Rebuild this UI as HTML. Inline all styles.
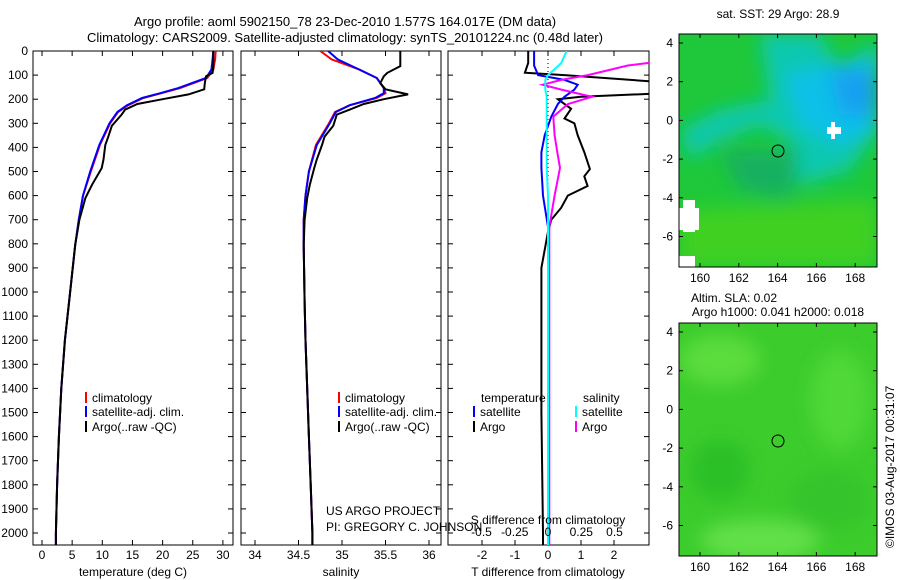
<!DOCTYPE html>
<html><head><meta charset="utf-8"><style>
body{margin:0;background:#fff;}
svg{display:block;font-family:"Liberation Sans",sans-serif;}
text{font-size:12px;fill:#000;}
</style></head><body>
<svg id="fig" width="900" height="580" viewBox="0 0 900 580">
<defs>
<clipPath id="c1"><rect x="33" y="51" width="200" height="494"/></clipPath>
<clipPath id="c2"><rect x="241" y="51" width="200" height="494"/></clipPath>
<clipPath id="c3"><rect x="448" y="51" width="201" height="494"/></clipPath>
<clipPath id="cm1"><rect x="679" y="34" width="198" height="233"/></clipPath>
<clipPath id="cm2"><rect x="679" y="323" width="198" height="233"/></clipPath>
<filter id="bl" x="-50%" y="-50%" width="200%" height="200%"><feGaussianBlur stdDeviation="9"/></filter>
</defs>
<text x="345" y="26" text-anchor="middle" style="font-size:13px">Argo profile: aoml 5902150_78 23-Dec-2010 1.577S 164.017E (DM data)</text>
<text x="345" y="42" text-anchor="middle" style="font-size:13px">Climatology: CARS2009. Satellite-adjusted climatology: synTS_20101224.nc (0.48d later)</text>

<!-- SST map -->
<g clip-path="url(#cm1)">
<rect x="679" y="34" width="198" height="233" fill="#1ec83a"/>
<g filter="url(#bl)">
<path d="M760 34 L820 34 L840 70 L877 40 L877 130 L850 170 L800 185 L790 140 L760 125 L720 140 L690 160 L680 130 L720 110 L770 100 Z" fill="#10c8b0"/>
<path d="M785 75 L877 55 L877 130 L840 145 L800 125 Z" fill="#10c0e8"/>
<path d="M830 70 L877 70 L877 115 L840 115 Z" fill="#18a0f0"/>
<path d="M720 150 L800 150 L790 200 L740 190 Z" fill="#18b060"/>
<path d="M679 210 L877 200 L877 267 L679 267 Z" fill="#40d020"/>
</g>
<rect x="827" y="127" width="14" height="7" fill="#fff"/><rect x="831" y="122" width="4" height="17" fill="#fff"/>
<rect x="683" y="200" width="12" height="32" fill="#fff"/><rect x="679" y="208" width="20" height="22" fill="#fff"/>
<rect x="679" y="256" width="16" height="11" fill="#fff"/>
<circle cx="778" cy="151" r="6" fill="none" stroke="#000"/>
</g>
<rect x="679" y="34" width="198" height="233" fill="none" stroke="#000"/>
<text x="778" y="18" text-anchor="middle">sat. SST: 29 Argo: 28.9</text>

<!-- SLA map -->
<g clip-path="url(#cm2)">
<rect x="679" y="323" width="198" height="233" fill="#3ccc2c"/>
<g filter="url(#bl)">
<ellipse cx="720" cy="360" rx="40" ry="25" fill="#5cdc3c"/>
<ellipse cx="840" cy="400" rx="30" ry="50" fill="#50d838"/>
<ellipse cx="760" cy="540" rx="60" ry="20" fill="#64e048"/>
<ellipse cx="720" cy="470" rx="30" ry="30" fill="#2cc028"/>
<ellipse cx="830" cy="500" rx="40" ry="30" fill="#34c42c"/>
</g>
<circle cx="778" cy="441" r="6" fill="none" stroke="#000"/>
</g>
<rect x="679" y="323" width="198" height="233" fill="none" stroke="#000"/>
<text x="734" y="302" text-anchor="middle">Altim. SLA: 0.02</text>
<text x="778" y="316" text-anchor="middle">Argo h1000: 0.041 h2000: 0.018</text>
<text transform="translate(894,548) rotate(-90)">©IMOS 03-Aug-2017 00:31:07</text>

<g id="plots"></g>
</svg>
<script>
// ===== data =====
const depthTicks=[0,100,200,300,400,500,600,700,800,900,1000,1100,1200,1300,1400,1500,1600,1700,1800,1900,2000];
const tTicks=[0,5,10,15,20,25,30];
const sTicks=[34,34.5,35,35.5,36];
const tdTicks=[-2,-1,0,1,2];
const sdTicks=[-0.5,-0.25,0,0.25,0.5];
const sdTickLabels=["-0.5","-0.25","0","0.25","0.5"];
const lonTicks=[160,162,164,166,168];
const latTicks=[4,2,0,-2,-4,-6];

const climDepth=[0,35,77,112,154,175,195,225,253,300,390,500,600,700,805,1040,1200,1400,1600,1800,2000,2050];
const climT=[28.8,28.7,28.4,27.4,22.9,19.8,16.8,14.3,12.6,11.3,9.6,8.1,6.8,6.1,5.5,4.5,3.8,3.2,2.8,2.5,2.3,2.3];
const satT=[28.4,28.3,28.1,27.2,22.6,19.6,16.6,14.1,12.5,11.2,9.5,8.0,6.8,6.1,5.5,4.5,3.8,3.2,2.8,2.5,2.3,2.3];
const climS=[34.75,34.88,35.2,35.4,35.48,35.5,35.4,35.09,34.92,34.85,34.7,34.62,34.58,34.56,34.56,34.57,34.58,34.6,34.62,34.64,34.66,34.66];
const satS=[34.84,34.95,35.2,35.4,35.48,35.48,35.38,35.09,34.93,34.86,34.71,34.62,34.58,34.56,34.56,34.57,34.58,34.6,34.62,34.64,34.66,34.66];

const argoDepth=[0,63,91,105,133,159,180,200,220,243,264,310,355,390,450,486,555,610,700,805,1040,1200,1400,1600,1800,2000,2050];
const argoT=[28.4,28.4,28.3,27.2,27.0,26.9,24.3,20,15.8,13.8,13.2,11.6,11.0,10.5,10.2,9.9,8.3,7.2,6.2,5.5,4.5,3.8,3.2,2.8,2.5,2.3,2.3];
const argoS=[35.67,35.67,35.52,35.48,35.44,35.5,35.76,35.48,35.25,35.09,34.94,34.9,34.8,34.77,34.71,34.68,34.63,34.6,34.57,34.56,34.57,34.58,34.6,34.62,34.64,34.66,34.66];

const tdDepth=[0,50,90,100,130,160,175,190,200,240,280,300,350,420,490,520,560,600,650,700,750,900,1000,1500,2000,2050];
const argoTd=[-0.6,-0.6,-0.7,0.5,3.5,4,3.5,1.0,0.3,0.7,0.5,0.8,0.9,1.1,1.27,1.1,1.2,0.6,0.4,0.1,0.0,-0.2,-0.2,-0.2,-0.15,-0.15];
const sdDepth=[0,50,60,100,120,140,160,190,220,272,350,420,485,600,730,1000,1500,2000,2050];
const satTd=[-0.42,-0.42,-0.42,-0.3,0.5,0.9,0.8,0.5,0.3,0.1,-0.1,-0.2,-0.2,-0.15,0,0,0,0,0];
const argoSd=[1.2,0.75,0.6,0.3,0.1,-0.04,0.1,0.33,0.15,0.04,0.05,0.07,0.09,0.05,0.01,0.01,0.01,0.01,0.01];
const satSd=[0.14,0.1,0.08,0,-0.02,-0.02,-0.02,-0.01,-0.01,-0.01,-0.01,-0.01,-0.01,0,0,0,0,0,0];

// ===== scales =====
const yD=d=>51+d*0.241;
const xT=v=>42+v*6.03;
const xS=v=>255+(v-34)*87;
const xTD=v=>548+v*33;
const xSD=v=>548+v*133;
const mLon1=v=>700+(v-160)*19.4;
const mLat1=v=>43-(v-4)*19.35;
const mLat2=v=>332-(v-4)*19.35;

const NS="http://www.w3.org/2000/svg";
const root=document.getElementById('plots');
function el(tag,attrs,parent,txt){const e=document.createElementNS(NS,tag);for(const k in attrs)e.setAttribute(k,attrs[k]);if(txt!==undefined)e.textContent=txt;(parent||root).appendChild(e);return e;}
function line(xs,ys,color,w,clip,name){
  const d=xs.map((v,i)=>(i?'L':'M')+v.toFixed(1)+' '+ys[i].toFixed(1)).join(' ');
  const p=el('path',{d:d,fill:'none',stroke:color,'stroke-width':w,'clip-path':'url(#'+clip+')'});
  
  
}
function panel(x0,w,name){
  const r=el('rect',{x:x0,y:51,width:w,height:494,fill:'none',stroke:'#000'});
  
  
  depthTicks.forEach(d=>{el('line',{x1:x0,x2:x0+5,y1:yD(d),y2:yD(d),stroke:'#000'});el('line',{x1:x0+w-5,x2:x0+w,y1:yD(d),y2:yD(d),stroke:'#000'});});
}
function xticks(ticks,fx,labels,name){
  ticks.forEach((v,i)=>{const x=fx(v);
    el('line',{x1:x,x2:x,y1:51,y2:56,stroke:'#000'});el('line',{x1:x,x2:x,y1:540,y2:545,stroke:'#000'});
    const t=el('text',{x:x,y:559,'text-anchor':'middle'},null,labels?labels[i]:String(v));
    
    
  });
}
depthTicks.forEach(d=>{const t=el('text',{x:28,y:yD(d)+4,'text-anchor':'end'},null,String(d));
  
  });

panel(33,200,'temperature-panel');
panel(241,200,'salinity-panel');
panel(448,201,'difference-panel');
xticks(tTicks,xT,null,'temperature-tick-label');
xticks(sTicks,xS,null,'salinity-tick-label');
xticks(tdTicks,xTD,null,'tdiff-tick-label');

[[133,'temperature (deg C)','temperature-axis-title'],[341,'salinity','salinity-axis-title'],[548,'T difference from climatology','tdiff-axis-title']].forEach(a=>{
  const t=el('text',{x:a[0],y:576,'text-anchor':'middle'},null,a[1]);
  
  });

line(climT.map(xT),climDepth.map(yD),'#f00',2,'c1','temp-climatology-line');
line(satT.map(xT),climDepth.map(yD),'#00f',2,'c1','temp-satellite-line');
line(argoT.map(xT),argoDepth.map(yD),'#000',2,'c1','temp-argo-line');
line(climS.map(xS),climDepth.map(yD),'#f00',2,'c2','sal-climatology-line');
line(satS.map(xS),climDepth.map(yD),'#00f',2,'c2','sal-satellite-line');
line(argoS.map(xS),argoDepth.map(yD),'#000',2,'c2','sal-argo-line');
el('line',{x1:548,x2:548,y1:51,y2:545,stroke:'#000','stroke-dasharray':'1,3'});
line(argoTd.map(xTD),tdDepth.map(yD),'#000',2,'c3','tdiff-argo-line');
line(satTd.map(xTD),sdDepth.map(yD),'#00f',2,'c3','tdiff-satellite-line');
line(argoSd.map(xSD),sdDepth.map(yD),'#f0f',2,'c3','sdiff-argo-line');
line(satSd.map(xSD),sdDepth.map(yD),'#0ff',2,'c3','sdiff-satellite-line');
sdTicks.forEach((v,i)=>{const t=el('text',{x:xSD(v),y:536,'text-anchor':'middle'},null,sdTickLabels[i]);
  
  });
{const t=el('text',{x:548,y:524,'text-anchor':'middle'},null,'S difference from climatology');
 
 }

function legend(x,y,color,label,name){
  el('line',{x1:x,x2:x,y1:y-10,y2:y+1,stroke:color,'stroke-width':2});
  const t=el('text',{x:x+6,y:y},null,label);
  
  
}
legend(86,402,'#f00','climatology','legend-climatology');
legend(86,416,'#00f','satellite-adj. clim.','legend-satellite');
legend(86,431,'#000','Argo(..raw -QC)','legend-argo');
legend(339,402,'#f00','climatology','legend-sal-climatology');
legend(339,416,'#00f','satellite-adj. clim.','legend-sal-satellite');
legend(339,431,'#000','Argo(..raw -QC)','legend-sal-argo');
{const t=el('text',{x:481,y:402},null,'temperature');}
{const t=el('text',{x:583,y:402},null,'salinity');}
legend(474,416,'#00f','satellite','legend-tdiff-satellite');
legend(474,431,'#000','Argo','legend-tdiff-argo');
legend(576,416,'#0ff','satellite','legend-sdiff-satellite');
legend(576,431,'#f0f','Argo','legend-sdiff-argo');
{const t=el('text',{x:326,y:515},null,'US ARGO PROJECT');}
{const t=el('text',{x:326,y:531},null,'PI: GREGORY C. JOHNSON');}

function mapAxes(top,bot,fy,prefix){
  lonTicks.forEach(v=>{const x=mLon1(v);
    el('line',{x1:x,x2:x,y1:top,y2:top+4,stroke:'#000'});el('line',{x1:x,x2:x,y1:bot-4,y2:bot,stroke:'#000'});
    const t=el('text',{x:x,y:bot+15,'text-anchor':'middle'},null,String(v));
    
    });
  latTicks.forEach(v=>{const y=fy(v);
    el('line',{x1:679,x2:683,y1:y,y2:y,stroke:'#000'});el('line',{x1:873,x2:877,y1:y,y2:y,stroke:'#000'});
    const t=el('text',{x:673,y:y+4,'text-anchor':'end'},null,String(v));
    
    });
}
mapAxes(34,267,mLat1,'sst-map');
mapAxes(323,556,mLat2,'sla-map');
</script>
</body></html>
